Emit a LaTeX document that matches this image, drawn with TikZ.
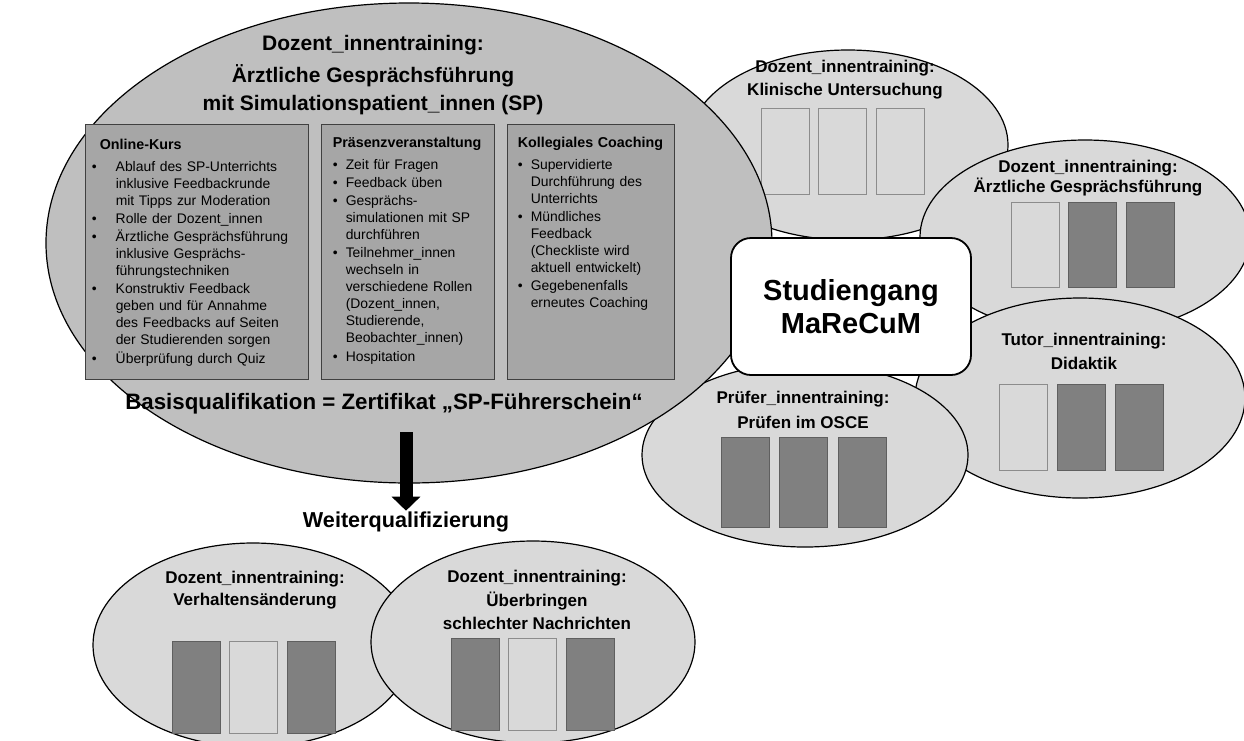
\documentclass[tikz,border=0pt]{standalone}
\usepackage{fontspec}
\setmainfont{Liberation Sans}
\usepackage{tikz}
\usetikzlibrary{positioning, shapes.geometric, arrows.meta}

\definecolor{bigfill}{HTML}{BFBFBF}
\definecolor{smallfill}{HTML}{D9D9D9}
\definecolor{boxfill}{HTML}{A6A6A6}
\definecolor{barfill}{HTML}{808080}
\definecolor{barline}{HTML}{5F5F5F}
\definecolor{lightline}{HTML}{8C8C8C}

\newlength{\bulwd}
\newcommand{\bitem}{\par\hangindent=\bulwd\hangafter=1\noindent\makebox[\bulwd][l]{\textbullet}}

\begin{document}
\begin{tikzpicture}[x=1pt, y=-1pt]
  \tikzstyle{bigell}=[ellipse, draw, line width=1.2pt, fill=bigfill, inner sep=0pt]
  \tikzstyle{smallell}=[ellipse, draw, line width=1.2pt, fill=smallfill, inner sep=0pt]
  \tikzstyle{darkbar}=[draw=barline, fill=barfill, line width=0.8pt, minimum width=48pt, minimum height=88pt, inner sep=0pt]
  \tikzstyle{lightbar}=[draw=lightline, fill=smallfill, line width=0.8pt, minimum width=48pt, minimum height=88pt, inner sep=0pt]
  \tikzstyle{ellhead}=[align=center, inner sep=0pt, font=\fontsize{17}{23}\selectfont\bfseries]
  \tikzstyle{modbox}=[draw=black!75, fill=boxfill, line width=0.9pt, minimum height=255pt, inner sep=0pt]
  \tikzstyle{modtext}=[anchor=north west, inner sep=0pt, align=left,
  font=\fontsize{13.9}{17}\selectfont\setlength{\parskip}{1.2pt}]

  \useasboundingbox (0,0) rectangle (1244,740);

  % Klinische Untersuchung
  \node (klin) [smallell, minimum width=320pt, minimum height=190pt] at (848,145) {};
  \node (klinhead) [ellhead] at (845,80) {Dozent\_innentraining:\\Klinische Untersuchung};
  \node (klin1) [lightbar, minimum height=86pt] at (785,151) {};
  \node (klin2) [lightbar, minimum height=86pt, right=9pt of klin1] {};
  \node (klin3) [lightbar, minimum height=86pt, right=9pt of klin2] {};

  % Aerztliche Gespraechsfuehrung
  \node (aerzt) [smallell, minimum width=330pt, minimum height=194pt] at (1085,237) {};
  \node (aerzthead) [ellhead, font=\fontsize{17}{20}\selectfont\bfseries] at (1088,178) {Dozent\_innentraining:\\Ärztliche Gesprächsführung};
  \node (aerzt1) [lightbar, minimum height=85pt] at (1035,244.5) {};
  \node (aerzt2) [darkbar, minimum height=85pt, right=9pt of aerzt1] {};
  \node (aerzt3) [darkbar, minimum height=85pt, right=9pt of aerzt2] {};

  % Didaktik
  \node (tutor) [smallell, minimum width=330pt, minimum height=200pt] at (1080,398) {};
  \node (tutorhead) [ellhead, font=\fontsize{17}{24}\selectfont\bfseries] at (1084,351) {Tutor\_innentraining:\\Didaktik};
  \node (tutor1) [lightbar, minimum height=86pt] at (1023.5,427) {};
  \node (tutor2) [darkbar, minimum height=86pt, right=9pt of tutor1] {};
  \node (tutor3) [darkbar, minimum height=86pt, right=9pt of tutor2] {};

  % Pruefen im OSCE
  \node (pruef) [smallell, minimum width=326pt, minimum height=184pt] at (805,455) {};
  \node (pruefhead) [ellhead, font=\fontsize{17}{25}\selectfont\bfseries] at (803,410) {Prüfer\_innentraining:\\Prüfen im OSCE};
  \node (pruef1) [darkbar, minimum height=90pt] at (745,482) {};
  \node (pruef2) [darkbar, minimum height=90pt, right=10pt of pruef1] {};
  \node (pruef3) [darkbar, minimum height=90pt, right=10pt of pruef2] {};

  % SP-Fuehrerschein
  \node (basis) [bigell, minimum width=726pt, minimum height=480pt] at (409,243) {};
  \node (basishead) [align=center, inner sep=0pt, font=\fontsize{21}{28}\selectfont\bfseries] at (373,75)
  {Dozent\_innentraining:\\[4pt]Ärztliche Gesprächsführung\\mit Simulationspatient\_innen (SP)};

  \node (online) [modbox, minimum width=223pt] at (196.5,251.5) {};
  \node (praes) [modbox, minimum width=173pt] at (407.5,251.5) {};
  \node (koll) [modbox, minimum width=167pt] at (590.5,251.5) {};

  \node (onlinetext) [modtext, text width=212pt] at ([shift={(7pt,-15pt)}]online.north west)
  {\setlength{\bulwd}{24pt}{\hspace*{8pt}\fontsize{14.3}{17}\selectfont\bfseries Online-Kurs\par}\vskip4pt
    \bitem Ablauf des SP-Unterrichts\newline inklusive Feedbackrunde\newline mit Tipps zur Moderation
    \bitem Rolle der Dozent\_innen
    \bitem Ärztliche Gesprächsführung\newline inklusive Gesprächs-\newline führungstechniken
    \bitem Konstruktiv Feedback\newline geben und für Annahme\newline des Feedbacks auf Seiten\newline der Studierenden sorgen
    \bitem Überprüfung durch Quiz\par};
  \node (praestext) [modtext, text width=158pt] at ([shift={(12pt,-13pt)}]praes.north west)
  {\setlength{\bulwd}{13pt}{\fontsize{14.3}{17}\selectfont\bfseries Präsenzveranstaltung\par}\vskip4pt
    \bitem Zeit für Fragen
    \bitem Feedback üben
    \bitem Gesprächs-\newline simulationen mit SP\newline durchführen
    \bitem Teilnehmer\_innen\newline wechseln in\newline verschiedene Rollen\newline (Dozent\_innen,\newline Studierende,\newline Beobachter\_innen)
    \bitem Hospitation\par};
  \node (kolltext) [modtext, text width=152pt] at ([shift={(11pt,-13pt)}]koll.north west)
  {\setlength{\bulwd}{13pt}{\fontsize{14.3}{17}\selectfont\bfseries Kollegiales Coaching\par}\vskip4pt
    \bitem Supervidierte\newline Durchführung des\newline Unterrichts
    \bitem Mündliches\newline Feedback\newline (Checkliste wird\newline aktuell entwickelt)
    \bitem Gegebenenfalls\newline erneutes Coaching\par};

  \node (zertifikat) [inner sep=0pt, font=\fontsize{22.3}{26}\selectfont\bfseries] at (384,404)
  {Basisqualifikation = Zertifikat „SP-Führerschein“};

  % Weiterqualifizierung
  \node (verh) [smallell, minimum width=320pt, minimum height=204pt] at (253,645) {};
  \node (verhhead) [ellhead, font=\fontsize{17}{22}\selectfont\bfseries] at (255,590) {Dozent\_innentraining:\\Verhaltensänderung};
  \node (verh1) [darkbar, minimum height=92pt] at (196,687) {};
  \node (verh2) [lightbar, minimum height=92pt, right=9pt of verh1] {};
  \node (verh3) [darkbar, minimum height=92pt, right=9pt of verh2] {};

  \node (ueber) [smallell, minimum width=324pt, minimum height=202pt] at (533,642) {};
  \node (ueberhead) [ellhead, font=\fontsize{17}{23.5}\selectfont\bfseries] at (537,600) {Dozent\_innentraining:\\Überbringen\\schlechter Nachrichten};
  \node (ueber1) [darkbar, minimum height=92pt] at (475,684) {};
  \node (ueber2) [lightbar, minimum height=92pt, right=9pt of ueber1] {};
  \node (ueber3) [darkbar, minimum height=92pt, right=9pt of ueber2] {};

  \node (weiter) [inner sep=1pt, font=\fontsize{21.6}{26}\selectfont\bfseries] at (406,522) {Weiterqualifizierung};
  \coordinate (arrtop) at (406,432);
  \draw[line width=13pt, -{Triangle[length=14pt, width=28pt]}] (arrtop) -- (weiter.north);

  % Studiengang
  \node (studien) [draw, line width=1.8pt, rounded corners=20pt, fill=white, minimum width=240pt,
  minimum height=137pt, align=center, font=\fontsize{29}{33}\selectfont\bfseries] at (851,306.5)
  {Studiengang\\MaReCuM};
\end{tikzpicture}
\end{document}
